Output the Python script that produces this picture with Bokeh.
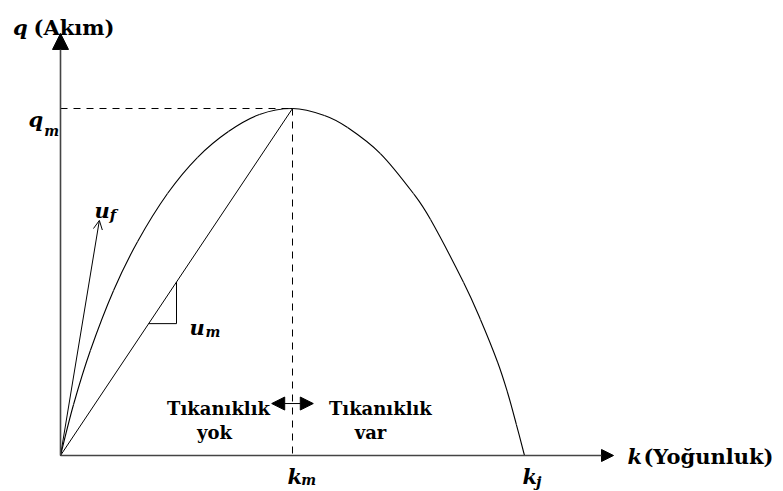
from bokeh.plotting import figure
from bokeh.models import Range1d, Arrow, NormalHead, OpenHead, Label
from bokeh.embed import file_html
from bokeh.resources import INLINE

# Flow-density (q-k) diagram: density k (veh/km), flow q (veh/h)
k_jam = 160.0          # k_j, jam density
k_crit = 80.0          # k_m, critical density
q_max = 4000.0         # q_m, capacity
u_mean = q_max / k_crit  # u_m, speed at capacity

# Points along the flow-density curve
curve_k = [0.0, 4.5, 10.3, 18.3, 26.6, 36.9, 47.2, 57.9, 68.6, 80.0,
           91.0, 99.0, 110.3, 121.7, 127.6, 139.0, 144.8, 150.7, 154.1, 157.2, 160.0]
curve_q = [0.0, 588, 1210, 1902, 2467, 3020, 3435, 3735, 3931, 4000,
           3920, 3781, 3481, 3020, 2720, 1994, 1568, 1078, 732, 357, 0.0]

# Free-flow speed vector u_f (drawn from the origin)
uf_tip_k = 13.4
uf_tip_q = 2710.0

# Slope triangle under the u_m ray
tri_k = [30.4, 40.0]

# Axis extents
k_axis_end = 190.7
q_axis_end = 4865.0

FONT = "DejaVu Serif"

p = figure(width=783, height=491,
           x_range=Range1d(-20.69, 249.31), y_range=Range1d(-415.0, 5245.0),
           x_axis_type=None, y_axis_type=None,
           toolbar_location=None, output_backend="svg",
           min_border=0, min_border_left=0, min_border_right=0,
           min_border_top=0, min_border_bottom=0)
p.outline_line_color = None
p.background_fill_color = "white"
p.border_fill_color = "white"

# Smooth curve through the points (Catmull-Rom as cubic Bezier segments)
n = len(curve_k)
x0s, y0s, x1s, y1s, c0x, c0y, c1x, c1y = [], [], [], [], [], [], [], []
for i in range(n - 1):
    a = max(i - 1, 0)
    d = min(i + 2, n - 1)
    x0s.append(curve_k[i]); y0s.append(curve_q[i])
    x1s.append(curve_k[i + 1]); y1s.append(curve_q[i + 1])
    c0x.append(curve_k[i] + (curve_k[i + 1] - curve_k[a]) / 6.0)
    c0y.append(curve_q[i] + (curve_q[i + 1] - curve_q[a]) / 6.0)
    c1x.append(curve_k[i + 1] - (curve_k[d] - curve_k[i]) / 6.0)
    c1y.append(curve_q[i + 1] - (curve_q[d] - curve_q[i]) / 6.0)
p.bezier(x0=x0s, y0=y0s, x1=x1s, y1=y1s, cx0=c0x, cy0=c0y, cx1=c1x, cy1=c1y,
         line_color="black", line_width=1.1)

# Dashed guides to the capacity point
p.line([0, k_crit], [q_max, q_max], line_color="black", line_width=1, line_dash="7 6")
p.line([k_crit, k_crit], [q_max, 0], line_color="black", line_width=1, line_dash="7 6")

# u_m ray from origin to capacity point
p.line([0, k_crit], [0, q_max], line_color="black", line_width=1)

# Slope triangle
p.line([tri_k[0], tri_k[1], tri_k[1]],
       [u_mean * tri_k[0], u_mean * tri_k[0], u_mean * tri_k[1]],
       line_color="black", line_width=1)

# u_f arrow
p.add_layout(Arrow(x_start=0, y_start=0, x_end=uf_tip_k, y_end=uf_tip_q,
                   line_color="black", line_width=1,
                   end=OpenHead(size=9, line_color="black", line_width=1)))

# Axes with arrowheads
axis_color = "#444444"
p.add_layout(Arrow(x_start=0, y_start=0, x_end=k_axis_end, y_end=0,
                   line_color=axis_color, line_width=1.6,
                   end=NormalHead(size=12, fill_color="black", line_color="black")))
p.add_layout(Arrow(x_start=0, y_start=0, x_end=0, y_end=q_axis_end,
                   line_color=axis_color, line_width=1.6,
                   end=NormalHead(size=16, fill_color="black", line_color="black")))

# Double arrow at critical density
p.add_layout(Arrow(x_start=k_crit - 7.17, y_start=599, x_end=k_crit + 7.17, y_end=599,
                   line_color="black", line_width=1,
                   start=NormalHead(size=13, fill_color="black", line_color="black"),
                   end=NormalHead(size=13, fill_color="black", line_color="black")))


def label(x, y, text, style="bold italic", size=21, align="left"):
    p.add_layout(Label(x=x, y=y, text=text, text_font=FONT, text_font_style=style,
                       text_font_size=f"{size}px", text_align=align,
                       text_baseline="alphabetic", text_color="black"))


# Axis titles
label(-16.4, 4934, "q")
label(-9.3, 4934, "(Akım)", style="bold")
label(195.5, -12, "k")
label(201.0, -12, "(Yoğunluk)", style="bold")

# Symbols with subscripts
label(-11.0, 3873, "q"); label(-5.6, 3746, "m", size=14)
label(11.7, 2824, "u"); label(17.0, 2778, "f", size=15)
label(44.5, 1475, "u"); label(50.0, 1418, "m", size=14)
label(78.3, -242, "k"); label(83.0, -288, "m", size=14)
label(159.3, -242, "k"); label(164.0, -300, "j", size=15)

# Regime annotations
label(54.5, 542, "Tıkanıklık", style="bold", size=18, align="center")
label(53.1, 270, "yok", style="bold", size=18, align="center")
label(110.3, 542, "Tıkanıklık", style="bold", size=18, align="center")
label(106.9, 270, "var", style="bold", size=18, align="center")

open("out.html", "w").write(file_html(p, INLINE))
